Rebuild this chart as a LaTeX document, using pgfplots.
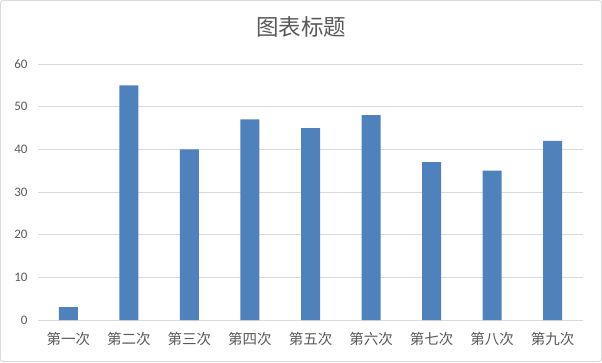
\documentclass[border=0pt]{standalone}
\usepackage{pgfplots}
\pgfplotsset{compat=1.18}
\usepackage{fontspec}
\setmainfont{Carlito}
\newfontfamily\cjk{Noto Sans CJK SC}
\definecolor{barblue}{HTML}{4F81BD}
\definecolor{gridgray}{HTML}{D9D9D9}
\definecolor{textgray}{HTML}{595959}
\begin{document}
\begin{tikzpicture}[x=1bp,y=1bp]
\draw[gridgray, line width=1bp, rounded corners=3bp] (0.5,0.5) rectangle (601.5,361.5);
\node[textgray, font=\cjk\fontsize{22.5bp}{25bp}\selectfont, inner sep=0pt] at (301,335.3) {图表标题};
\begin{axis}[
  at={(38bp,42bp)}, anchor=south west,
  scale only axis, width=545bp, height=256bp,
  xmin=-0.5, xmax=8.5, ymin=0, ymax=60,
  ytick={0,10,...,60},
  xtick={0,...,8},
  xticklabels={第一次,第二次,第三次,第四次,第五次,第六次,第七次,第八次,第九次},
  axis x line*=bottom, axis y line*=left,
  x axis line style={gridgray, line width=1bp, -},
  y axis line style={draw=none},
  major tick length=0pt,
  ymajorgrids, grid style={gridgray, line width=1bp},
  /pgf/number format/assume math mode=true,
  yticklabel style={textgray, font=\fontsize{13bp}{15bp}\selectfont, inner sep=0pt, anchor=east, xshift=-10.3bp},
  xticklabel style={textgray, font=\cjk\fontsize{14.5bp}{16bp}\selectfont, inner sep=0pt, anchor=center, yshift=-19bp},
  ybar, bar width=19bp,
]
\addplot[fill=barblue, draw=none] coordinates {(0,3) (1,55) (2,40) (3,47) (4,45) (5,48) (6,37) (7,35) (8,42)};
\end{axis}
\end{tikzpicture}
\end{document}
